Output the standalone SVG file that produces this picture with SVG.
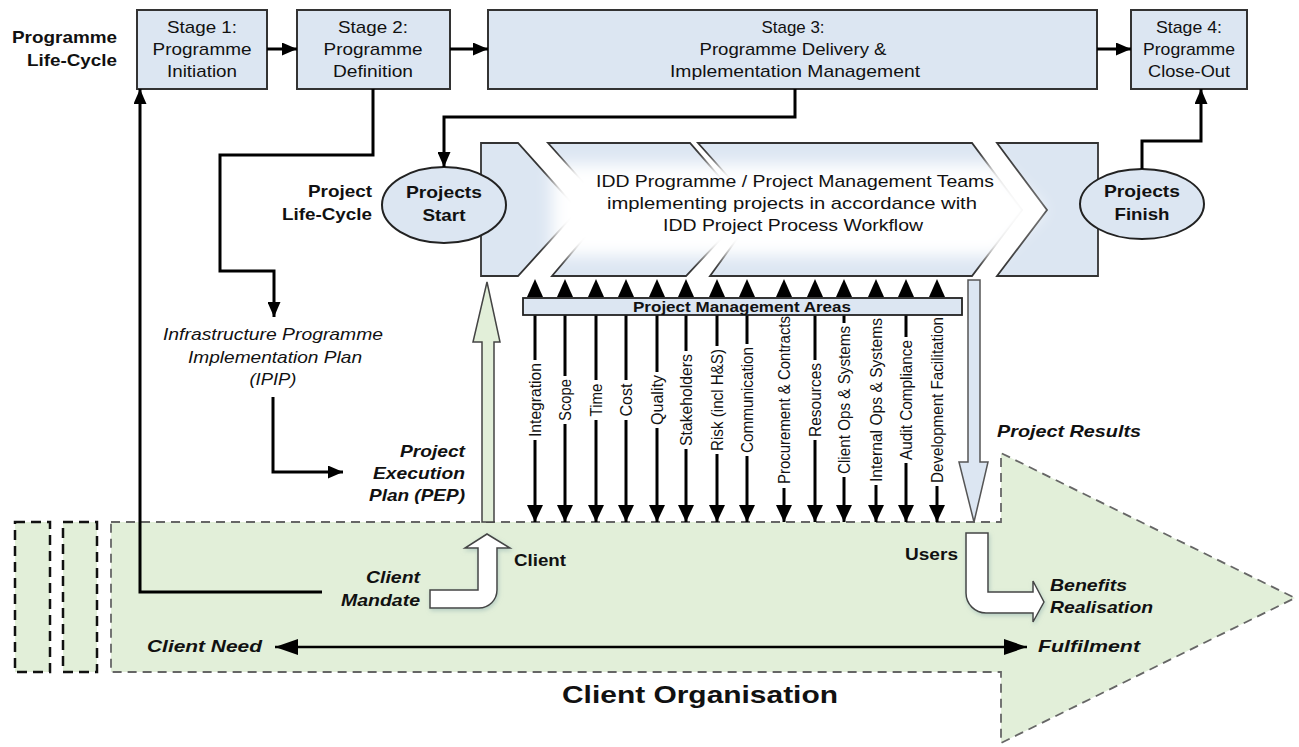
<svg xmlns="http://www.w3.org/2000/svg" xmlns:xlink="http://www.w3.org/1999/xlink" width="1299" height="747" viewBox="0 0 1299 747">
<style>
.t{font-family:"Liberation Sans",Arial,sans-serif;fill:#111;font-size:17px}
.b{font-weight:bold}
.i{font-style:italic}
.m{text-anchor:middle}
.e{text-anchor:end}
.stage{fill:#dce6f2;stroke:#333;stroke-width:2}
.chev{fill:#dce6f2;stroke:#333;stroke-width:1.8}
.ell{fill:#dce6f2;stroke:#222;stroke-width:2}
.conn{fill:none;stroke:#000;stroke-width:3}
.pm{fill:none;stroke:#000;stroke-width:3}
.vl{font-size:16px}
</style>
<defs>
<marker id="ah" viewBox="0 0 10 10" refX="10" refY="5" markerWidth="15" markerHeight="13" markerUnits="userSpaceOnUse" orient="auto" preserveAspectRatio="none"><path d="M0,0 L10,5 L0,10 z" fill="#000"/></marker>
<marker id="vh" viewBox="0 0 10 10" refX="10" refY="5" markerWidth="17" markerHeight="16" markerUnits="userSpaceOnUse" orient="auto" preserveAspectRatio="none"><path d="M0,0 L10,5 L0,10 z" fill="#000"/></marker>
<marker id="bh" viewBox="0 0 10 10" refX="10" refY="5" markerWidth="23" markerHeight="16" markerUnits="userSpaceOnUse" orient="auto-start-reverse" preserveAspectRatio="none"><path d="M0,0 L10,5 L0,10 z" fill="#000"/></marker>
<polygon id="upHead" points="-8,0 0,-18 8,0" fill="#000"/>
<filter id="glow" x="-10%" y="-30%" width="120%" height="160%"><feGaussianBlur stdDeviation="8"/></filter>
<filter id="sh" x="-20%" y="-20%" width="150%" height="150%"><feDropShadow dx="1" dy="2" stdDeviation="2" flood-color="#8aa" flood-opacity="0.5"/></filter>
</defs>

<!-- Client organisation big arrow -->
<g id="client-organisation">
<rect x="15" y="522" width="35" height="150" fill="#e2efd9" stroke="#111" stroke-width="2.5" stroke-dasharray="10,6"/>
<rect x="63" y="522" width="34" height="150" fill="#e2efd9" stroke="#111" stroke-width="2.5" stroke-dasharray="10,6"/>
<path d="M111,522 H1001 V453 L1295,598 L1001,743 V672 H111 Z" fill="#e2efd9" stroke="#666" stroke-width="1.8" stroke-dasharray="9,6"/>
<text class="t b m" x="700" y="703" style="font-size:24px" textLength="276" lengthAdjust="spacingAndGlyphs">Client Organisation</text>
</g>

<!-- label -->
<g id="programme-lifecycle-label">
<text class="t b e" x="117" y="43" textLength="105" lengthAdjust="spacingAndGlyphs">Programme</text>
<text class="t b e" x="117" y="66" textLength="90" lengthAdjust="spacingAndGlyphs">Life-Cycle</text>
</g>

<g id="stage1">
<rect class="stage" x="137" y="10" width="130" height="79"/>
<text class="t m" x="202" y="33" textLength="70" lengthAdjust="spacingAndGlyphs">Stage 1:</text>
<text class="t m" x="202" y="55" textLength="99" lengthAdjust="spacingAndGlyphs">Programme</text>
<text class="t m" x="202" y="77" textLength="70" lengthAdjust="spacingAndGlyphs">Initiation</text>
</g>
<g id="stage2">
<rect class="stage" x="297" y="10" width="153" height="79"/>
<text class="t m" x="373" y="33" textLength="70" lengthAdjust="spacingAndGlyphs">Stage 2:</text>
<text class="t m" x="373" y="55" textLength="99" lengthAdjust="spacingAndGlyphs">Programme</text>
<text class="t m" x="373" y="77" textLength="80" lengthAdjust="spacingAndGlyphs">Definition</text>
</g>
<g id="stage3">
<rect class="stage" x="488" y="10" width="609" height="79"/>
<text class="t m" x="793" y="33" textLength="63" lengthAdjust="spacingAndGlyphs">Stage 3:</text>
<text class="t m" x="793" y="55" textLength="187" lengthAdjust="spacingAndGlyphs">Programme Delivery &amp;</text>
<text class="t m" x="795" y="77" textLength="250" lengthAdjust="spacingAndGlyphs">Implementation Management</text>
</g>
<g id="stage4">
<rect class="stage" x="1131" y="10" width="116" height="79"/>
<text class="t m" x="1189" y="33" textLength="66" lengthAdjust="spacingAndGlyphs">Stage 4:</text>
<text class="t m" x="1189" y="55" textLength="92" lengthAdjust="spacingAndGlyphs">Programme</text>
<text class="t m" x="1189" y="77" textLength="82" lengthAdjust="spacingAndGlyphs">Close-Out</text>
</g>

<g id="project-lifecycle-label">
<text class="t b e" x="372" y="197" textLength="64" lengthAdjust="spacingAndGlyphs">Project</text>
<text class="t b e" x="372" y="220" textLength="90" lengthAdjust="spacingAndGlyphs">Life-Cycle</text>
</g>

<!-- Project process chevrons -->
<g id="project-process">
<polygon class="chev" points="481,143 518,143 578,210 518,276 481,276"/>
<polygon class="chev" points="548,143 690,143 748,210 686,276 552,276 608,210"/>
<polygon class="chev" points="698,143 972,143 1022,210 972,276 710,276 758,210"/>
<polygon class="chev" points="997,143 1098,143 1098,276 997,276 1047,210"/>
<polygon points="552,164 998,164 1044,210 998,256 552,256" fill="#fff" filter="url(#glow)"/>
<text class="t m" x="795" y="187" textLength="398" lengthAdjust="spacingAndGlyphs">IDD Programme / Project Management Teams</text>
<text class="t m" x="792" y="209" textLength="370" lengthAdjust="spacingAndGlyphs">implementing projects in accordance with</text>
<text class="t m" x="793" y="231" textLength="260" lengthAdjust="spacingAndGlyphs">IDD Project Process Workflow</text>
</g>

<g id="projects-start">
<ellipse class="ell" cx="444" cy="205" rx="62" ry="38"/>
<text class="t b m" x="444" y="198" textLength="76" lengthAdjust="spacingAndGlyphs">Projects</text>
<text class="t b m" x="444" y="221" textLength="43" lengthAdjust="spacingAndGlyphs">Start</text>
</g>
<g id="projects-finish">
<ellipse class="ell" cx="1142" cy="204" rx="62" ry="35"/>
<text class="t b m" x="1142" y="197" textLength="76" lengthAdjust="spacingAndGlyphs">Projects</text>
<text class="t b m" x="1142" y="220" textLength="55" lengthAdjust="spacingAndGlyphs">Finish</text>
</g>

<g id="ipip">
<text class="t i m" x="273" y="340" textLength="220" lengthAdjust="spacingAndGlyphs">Infrastructure Programme</text>
<text class="t i m" x="275" y="363" textLength="174" lengthAdjust="spacingAndGlyphs">Implementation Plan</text>
<text class="t i m" x="273" y="385" textLength="47" lengthAdjust="spacingAndGlyphs">(IPIP)</text>
</g>
<g id="pep">
<text class="t b i e" x="465" y="457" textLength="65" lengthAdjust="spacingAndGlyphs">Project</text>
<text class="t b i e" x="465" y="479" textLength="92" lengthAdjust="spacingAndGlyphs">Execution</text>
<text class="t b i e" x="465" y="501" textLength="96" lengthAdjust="spacingAndGlyphs">Plan (PEP)</text>
</g>

<g id="pep-arrow">
<path d="M482,522 V342 H473 L487,282 L500,342 H494 V522 Z" fill="#e2efd9" stroke="#444" stroke-width="1.5"/>
</g>

<g id="project-results">
<path d="M968,280 H980 V462 H988 L974,522 L959,462 H968 Z" fill="#dce6f2" stroke="#555" stroke-width="1.5"/>
<text class="t b i" x="997" y="437" textLength="144" lengthAdjust="spacingAndGlyphs">Project  Results</text>
</g>

<g id="client-mandate">
<path d="M430,590 H478 V548 H465 L487,534 L510,548 H497 V590 A18,18 0 0 1 479,608 H430 Z" fill="#fff" stroke="#444" stroke-width="1.5" filter="url(#sh)"/>
<text class="t b i e" x="420" y="583" textLength="54" lengthAdjust="spacingAndGlyphs">Client</text>
<text class="t b i e" x="420" y="606" textLength="79" lengthAdjust="spacingAndGlyphs">Mandate</text>
<text class="t b" x="514" y="566" textLength="52" lengthAdjust="spacingAndGlyphs">Client</text>
</g>

<g id="benefits">
<path d="M966,533 H988 V592 H1033 V581 L1044,602 L1033,622 V613 H986 A20,20 0 0 1 966,593 Z" fill="#fff" stroke="#444" stroke-width="1.5" filter="url(#sh)"/>
<text class="t b e" x="958" y="560" textLength="53" lengthAdjust="spacingAndGlyphs">Users</text>
<text class="t b i" x="1050" y="591" textLength="77" lengthAdjust="spacingAndGlyphs">Benefits</text>
<text class="t b i" x="1050" y="613" textLength="103" lengthAdjust="spacingAndGlyphs">Realisation</text>
</g>

<g id="need-fulfilment-labels">
<text class="t b i" x="147" y="652" textLength="115" lengthAdjust="spacingAndGlyphs">Client Need</text>
<text class="t b i" x="1038" y="652" textLength="102" lengthAdjust="spacingAndGlyphs">Fulfilment</text>
</g>

<!-- Connectors -->
<g id="connectors">
<path class="conn" d="M267,49 H297" marker-end="url(#ah)"/>
<path class="conn" d="M450,49 H488" marker-end="url(#ah)"/>
<path class="conn" d="M1097,49 H1131" marker-end="url(#ah)"/>
<path class="conn" d="M373,89 V155 H220 V271 H274 V317" marker-end="url(#ah)"/>
<path class="conn" d="M795,89 V117 H444 V167" marker-end="url(#ah)"/>
<path class="conn" d="M1142,169 V141 H1201 V89" marker-end="url(#ah)"/>
<path class="conn" d="M322,592 H140 V89" stroke-width="3.5" marker-end="url(#ah)"/>
<path class="conn" d="M273,397 V472 H343" marker-end="url(#ah)"/>
<path d="M275,647 H1027" fill="none" stroke="#000" stroke-width="2.4" marker-start="url(#bh)" marker-end="url(#bh)"/>
<use xlink:href="#upHead" x="535" y="297"/>
<use xlink:href="#upHead" x="565" y="297"/>
<use xlink:href="#upHead" x="596" y="297"/>
<use xlink:href="#upHead" x="626" y="297"/>
<use xlink:href="#upHead" x="657" y="297"/>
<use xlink:href="#upHead" x="686" y="297"/>
<use xlink:href="#upHead" x="717" y="297"/>
<use xlink:href="#upHead" x="747" y="297"/>
<use xlink:href="#upHead" x="784" y="297"/>
<use xlink:href="#upHead" x="815" y="297"/>
<use xlink:href="#upHead" x="844" y="297"/>
<use xlink:href="#upHead" x="876" y="297"/>
<use xlink:href="#upHead" x="906" y="297"/>
<use xlink:href="#upHead" x="937" y="297"/>
<path class="pm" d="M535,315 V360 M565,315 V376 M596,315 V380 M626,315 V380 M657,315 V372 M686,315 V351 M717,315 V346 M747,315 V344 M815,315 V360 M844,315 V323 M906,315 V337"/>
<path class="pm" d="M535,440 V522" marker-end="url(#vh)"/>
<path class="pm" d="M565,424 V522" marker-end="url(#vh)"/>
<path class="pm" d="M596,420 V522" marker-end="url(#vh)"/>
<path class="pm" d="M626,420 V522" marker-end="url(#vh)"/>
<path class="pm" d="M657,428 V522" marker-end="url(#vh)"/>
<path class="pm" d="M686,449 V522" marker-end="url(#vh)"/>
<path class="pm" d="M717,454 V522" marker-end="url(#vh)"/>
<path class="pm" d="M747,456 V522" marker-end="url(#vh)"/>
<path class="pm" d="M784,488 V522" marker-end="url(#vh)"/>
<path class="pm" d="M815,440 V522" marker-end="url(#vh)"/>
<path class="pm" d="M844,477 V522" marker-end="url(#vh)"/>
<path class="pm" d="M876,485 V522" marker-end="url(#vh)"/>
<path class="pm" d="M906,463 V522" marker-end="url(#vh)"/>
<path class="pm" d="M937,486 V522" marker-end="url(#vh)"/>
</g>

<g id="pm-areas">
<rect x="523" y="298" width="439" height="17" fill="#dce6f2" stroke="#222" stroke-width="1.8"/>
<text class="t b m" x="742" y="312" style="font-size:15px" textLength="218" lengthAdjust="spacingAndGlyphs">Project Management Areas</text>
<g class="t m vl">
<text x="541" y="400" transform="rotate(-90,541,400)" textLength="74" lengthAdjust="spacingAndGlyphs">Integration</text>
<text x="571" y="400" transform="rotate(-90,571,400)" textLength="42" lengthAdjust="spacingAndGlyphs">Scope</text>
<text x="602" y="400" transform="rotate(-90,602,400)" textLength="33" lengthAdjust="spacingAndGlyphs">Time</text>
<text x="632" y="400" transform="rotate(-90,632,400)" textLength="33" lengthAdjust="spacingAndGlyphs">Cost</text>
<text x="663" y="400" transform="rotate(-90,663,400)" textLength="50" lengthAdjust="spacingAndGlyphs">Quality</text>
<text x="692" y="400" transform="rotate(-90,692,400)" textLength="92" lengthAdjust="spacingAndGlyphs">Stakeholders</text>
<text x="723" y="400" transform="rotate(-90,723,400)" textLength="102" lengthAdjust="spacingAndGlyphs">Risk (incl H&amp;S)</text>
<text x="753" y="400" transform="rotate(-90,753,400)" textLength="106" lengthAdjust="spacingAndGlyphs">Communication</text>
<text x="790" y="400" transform="rotate(-90,790,400)" textLength="168" lengthAdjust="spacingAndGlyphs">Procurement &amp; Contracts</text>
<text x="821" y="400" transform="rotate(-90,821,400)" textLength="74" lengthAdjust="spacingAndGlyphs">Resources</text>
<text x="850" y="400" transform="rotate(-90,850,400)" textLength="148" lengthAdjust="spacingAndGlyphs">Client Ops &amp; Systems</text>
<text x="882" y="400" transform="rotate(-90,882,400)" textLength="164" lengthAdjust="spacingAndGlyphs">Internal Ops &amp; Systems</text>
<text x="912" y="400" transform="rotate(-90,912,400)" textLength="120" lengthAdjust="spacingAndGlyphs">Audit Compliance</text>
<text x="943" y="400" transform="rotate(-90,943,400)" textLength="166" lengthAdjust="spacingAndGlyphs">Development Facilitation</text>
</g>
</g>
</svg>
